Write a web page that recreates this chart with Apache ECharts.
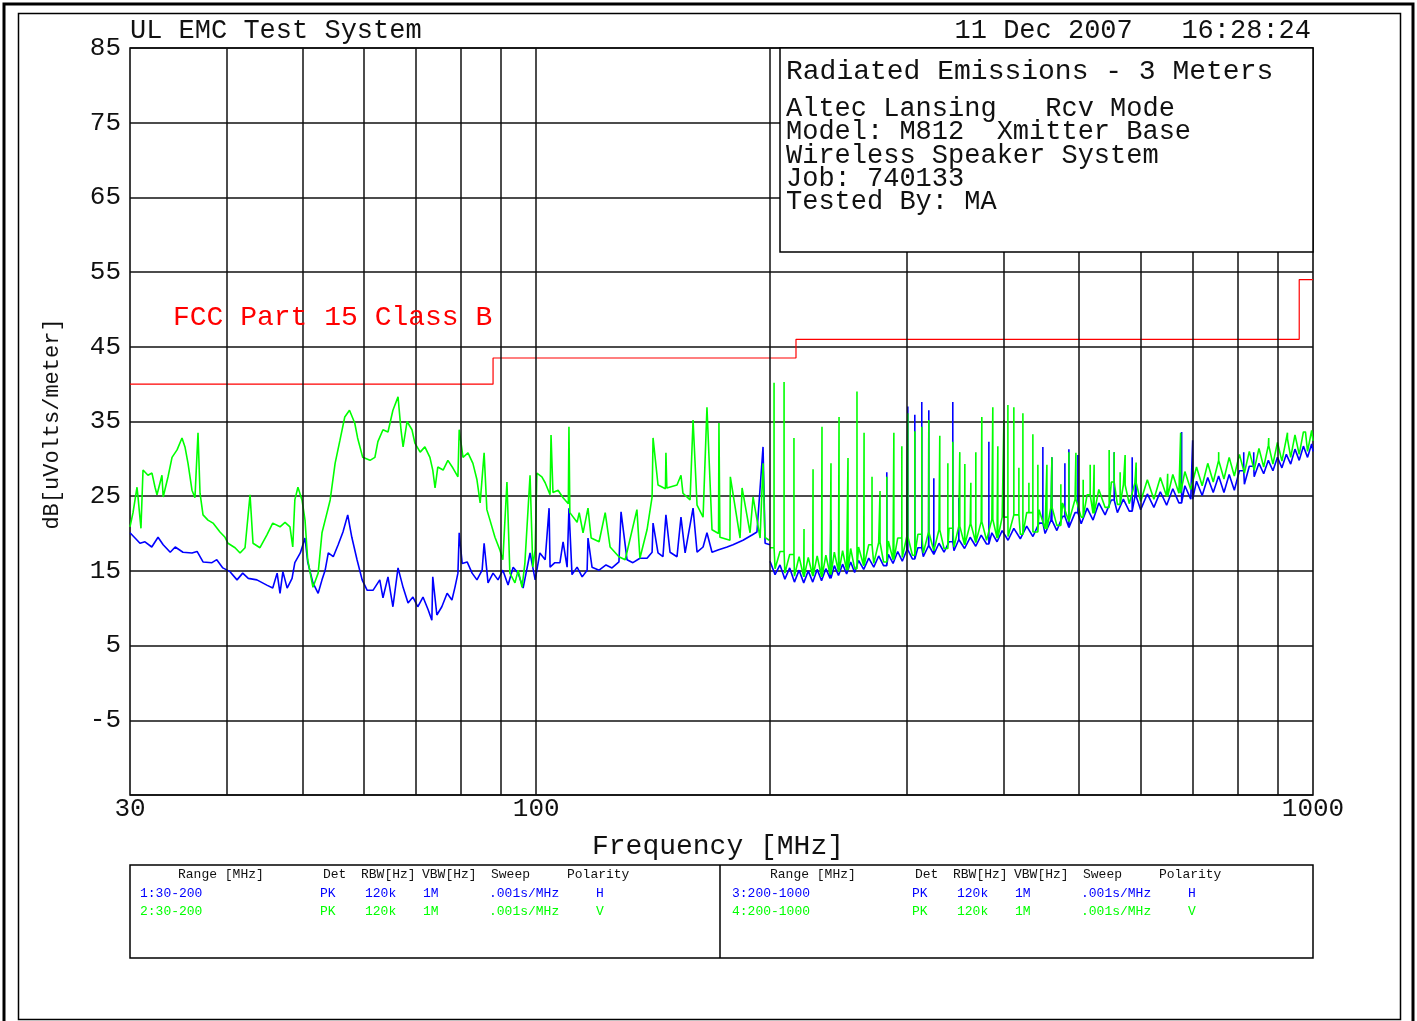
<!DOCTYPE html>
<html>
<head>
<meta charset="utf-8">
<script src="https://cdn.jsdelivr.net/npm/echarts@6/dist/echarts.min.js"></script>
<style>
html,body{margin:0;padding:0;background:#fff;}
#c{width:1417px;height:1021px;}
</style>
</head>
<body>
<div id="c"></div>
<script>
// ---------- DATA ----------
// Trace 1 (blue, H, 30-200 MHz)
const blue1F = [30.0,30.45,30.9,31.36,32.0,32.6,33.1,33.8,34.3,35.1,
36.05,36.6,37.25,38.25,38.8,39.5,40.35,41.2,41.9,42.6,
43.7,45.0,45.8,46.4,46.8,47.2,47.8,48.5,48.9,49.7,
50.4,50.8,51.6,52.4,53.0,53.5,54.0,54.8,55.6,56.4,
57.2,57.9,58.8,59.7,60.6,61.65,62.9,63.5,64.45,65.4,
66.4,67.4,68.4,69.4,70.4,71.5,72.6,73.4,73.6,74.5,
75.6,76.8,77.9,78.6,79.3,79.6,80.3,81.5,82.7,83.9,
85.2,85.7,86.7,88.0,89.3,90.6,92.0,93.4,94.8,96.2,
98.2,99.7,101.1,102.7,103.9,104.2,105.7,107.3,108.3,109.6,
110.2,111.2,112.9,114.6,116.3,116.6,118.0,120.5,123.0,125.2,
127.8,128.6,130.9,133.2,136.0,138.9,141.0,141.4,143.5,145.6,
146.9,148.7,151.8,153.6,155.5,159.2,161.1,164.0,165.9,168.4,
171.4,176.1,179.2,184.6,189.6,192.4,195.9,197.1,200];
const blue1V = [20.1,19.4,18.7,18.9,18.2,19.5,18.5,17.5,18.2,17.5,
17.4,17.6,16.2,16.1,16.5,15.4,14.9,13.8,14.7,14.0,
13.8,13.1,12.7,14.7,12.0,14.9,12.7,14.0,16.1,17.4,
19.4,16.2,13.4,12.0,13.8,15.1,17.4,16.9,18.5,20.2,
22.5,19.5,16.5,13.8,12.4,12.4,13.8,11.4,14.2,10.2,
15.4,12.8,10.7,11.5,10.2,11.5,9.8,8.4,14.2,9.1,
10.2,12.0,11.1,12.8,14.7,20.1,16.0,16.2,14.7,13.8,
15.1,18.7,13.4,14.7,13.8,15.1,13.1,15.5,14.7,12.7,
17.4,13.8,17.4,16.5,23.4,15.5,16.1,16.1,18.9,15.5,
23.4,14.5,15.5,14.2,15.1,19.4,15.5,15.1,15.8,15.4,
16.2,22.9,16.5,16.1,16.7,16.7,17.5,21.4,17.4,16.9,
22.5,17.5,16.9,22.2,17.4,23.4,17.5,18.2,20.1,17.5,
17.8,18.2,18.5,19.1,19.8,20.2,31.6,18.7,18.5];

// Trace 2 (green, V, 30-200 MHz)
const green2F = [30.0,30.27,30.63,30.72,30.99,31.18,31.64,32.02,32.31,32.5,
32.98,33.1,33.58,33.98,34.49,35.0,35.31,35.63,36.05,36.37,
36.7,36.92,37.25,37.8,38.37,39.17,39.76,40.11,40.96,41.57,
42.19,42.82,43.2,44.1,45.0,45.8,46.8,47.5,48.2,48.6,
48.9,49.35,49.95,50.4,50.8,51.6,52.4,53.0,53.8,54.3,
55.1,55.9,56.7,57.5,58.4,58.9,59.8,61.1,62.0,62.55,
63.5,64.45,65.4,66.4,66.98,67.4,68.2,69.2,69.8,70.9,
71.9,72.98,73.6,74.1,74.7,75.9,76.97,78.1,79.3,79.6,
80.5,81.7,82.9,83.9,84.7,85.7,86.4,87.2,88.5,89.8,
90.6,91.7,92.5,93.9,94.8,95.9,96.7,98.2,99.0,99.7,
100.2,101.7,102.7,104.2,104.5,105.1,106.7,108.3,110.0,110.2,
110.5,112.9,113.6,114.9,116.6,117.7,120.5,122.7,124.5,127.8,
130.2,134.8,136.0,138.9,141.0,141.4,143.5,146.7,146.9,147.3,
151.8,153.6,154.5,157.8,159.2,161.1,164.0,165.9,168.4,171.7,
171.9,172.4,177.6,177.8,183.0,184.1,188.5,190.2,194.2,195.9,
197.0,199.5];
const green2V = [20.9,22.8,26.2,24.9,20.7,28.5,27.8,28.1,26.2,25.2,
27.8,24.9,27.6,30.2,31.2,32.8,31.6,29.4,25.8,24.8,
33.5,25.4,22.5,21.8,21.4,20.2,19.5,18.7,18.1,17.4,
18.1,25.2,18.7,18.1,19.8,21.4,20.9,21.5,20.9,18.2,
24.5,26.2,24.5,21.8,16.5,12.8,14.7,20.1,22.8,24.5,
29.4,32.5,35.6,36.5,34.8,32.8,30.2,29.8,30.2,32.3,
33.9,33.6,36.5,38.3,33.9,31.6,35.0,33.9,32.1,30.9,
31.6,30.2,28.5,26.1,28.9,28.5,29.8,28.8,27.6,33.9,
30.2,30.8,29.4,27.2,24.1,30.8,23.2,21.8,19.5,17.8,
16.5,26.9,14.7,13.4,15.1,12.8,16.0,27.8,15.5,17.8,
28.1,27.6,26.8,25.2,33.2,25.5,25.8,24.8,24.0,34.3,
22.8,21.5,22.8,20.1,23.4,19.4,18.9,22.8,18.2,16.9,
16.5,23.2,16.7,20.5,24.9,32.8,26.5,26.0,30.8,26.1,
26.5,27.8,25.4,24.5,35.2,23.8,22.2,36.9,20.5,20.0,
34.8,19.5,19.1,27.6,19.4,26.1,20.1,24.9,19.4,29.4,
19.5,19.1];

// Traces 3 & 4 (200-1000 MHz) noise floor, sampled frequencies
const hiF = [200,203,206,209,212,215,218,221,224,227,
230,233,236,239,242,245,248,251,254,257,
260,264,268,272,276,280,284,288,292,296,
300,305,310,315,320,325,330,335,340,345,
350,356,362,368,374,380,386,392,398,405,
412,420,428,436,444,452,460,468,476,485,
494,503,512,521,530,540,550,560,570,580,
590,600,612,624,636,648,660,672,684,696,
708,720,732,744,756,768,780,792,804,816,
828,840,852,864,876,888,900,912,924,936,
948,960,972,984,996,1000];
const blue3V = [16.3,14.5,15.8,13.9,15.4,13.5,15.1,13.4,15.0,13.5,
15.2,13.7,15.3,14.0,15.7,14.4,15.9,14.6,16.2,14.8,
16.4,15.2,16.7,15.5,17.0,15.7,17.2,16.0,17.6,16.3,
17.8,16.6,18.1,16.9,18.4,17.2,18.7,17.5,18.9,17.7,
19.2,18.0,19.5,18.3,19.8,18.6,20.1,18.9,20.4,19.1,
20.7,19.3,21.0,19.6,21.4,20.0,21.8,20.4,22.3,20.8,
22.8,21.3,23.4,21.8,24.1,22.5,24.5,22.8,24.6,23.0,
25.0,23.2,25.3,23.5,25.6,23.8,26.0,24.1,26.4,24.6,
27.0,25.1,27.5,25.5,27.7,25.5,27.9,25.8,28.4,26.6,
29.0,27.6,29.4,28.0,29.8,28.4,30.2,28.8,30.6,29.3,
31.3,29.8,31.7,30.2,32.0,31.0];
const green4V = [18.1,15.3,17.6,14.7,17.2,14.3,16.9,14.2,16.8,14.3,
17.0,14.2,17.1,14.5,17.5,14.9,17.7,15.1,18.0,15.3,
18.2,15.7,18.5,16.0,18.8,16.2,19.0,16.5,19.4,16.8,
19.6,17.1,19.9,17.4,20.2,17.7,20.5,18.0,20.7,18.2,
21.0,18.5,21.3,18.8,21.6,19.1,21.9,19.4,22.2,19.6,
22.5,19.9,22.8,20.2,23.2,20.6,23.6,21.1,24.1,21.6,
24.6,22.2,25.2,22.7,25.9,23.5,26.9,23.9,26.5,24.0,
26.8,24.3,27.2,24.6,27.5,25.0,27.9,25.4,28.3,25.9,
28.9,26.4,29.4,26.9,29.8,27.3,30.2,27.7,30.6,28.1,
31.0,28.5,31.4,28.9,31.8,29.3,32.2,29.7,32.7,30.2,
33.2,30.6,33.6,31.0,33.8,32.4];

// Narrow emission spikes, 200-1000 MHz
const blue3SpikeF = [239.6,282.7,300.9,307.2,313.6,320.2,325.0,343.8,350.0,382.6,
449.0,461.2,479.3,485.0,498.1,554.7,585.1,592.0,677.5,700.0,814.4,838.9];
const blue3SpikeV = [21.8,28.2,37.0,35.9,37.6,36.5,27.4,37.6,24.8,32.3,
31.6,30.2,29.4,31.3,30.5,30.9,30.2,28.8,33.6,32.5,30.9,30.9];
const green4SpikeF = [202.4,208.5,214.7,221.2,227.2,233.3,239.6,245.4,252.0,258.8,
264.3,270.6,277.1,282.7,288.7,295.6,300.9,307.2,313.6,320.2,
330.8,338.8,343.8,351.0,356.3,362.7,368.1,374.7,387.1,392.9,
400.0,404.8,412.0,418.2,423.2,430.8,435.9,442.4,454.4,461.2,
473.6,485.0,495.2,506.0,516.6,522.7,546.5,554.7,564.6,573.0,
592.0,650.0,675.5,756.1,856.4,877.0,927.1,977.9];
const green4SpikeV = [40.2,40.3,32.8,20.6,28.6,34.3,29.4,35.6,30.1,39.0,
33.5,27.6,25.7,27.6,33.5,31.7,36.1,33.7,34.3,35.2,
33.1,29.4,32.3,30.9,29.3,26.8,30.9,35.6,36.9,31.7,
35.2,37.2,36.9,28.8,36.1,26.8,33.3,29.2,29.2,30.2,
26.6,30.9,30.8,27.2,29.2,29.2,31.2,30.9,28.2,30.5,
29.5,28.0,33.5,30.9,31.3,32.8,33.5,33.5];

// FCC Part 15 Class B limit (3 m)
const limitF = [30, 88, 88, 216, 216, 960, 960, 1000];
const limitV = [40, 40, 43.5, 43.5, 46, 46, 54, 54];

// Axis
const gridFreqs = [40,50,60,70,80,90,100,200,300,400,500,600,700,800,900];

// Texts
const titleText = 'UL EMC Test System';
const dateText = '11 Dec 2007   16:28:24';
const infoTitle = 'Radiated Emissions - 3 Meters';
const infoLines = ['Altec Lansing   Rcv Mode','Model: M812  Xmitter Base','Wireless Speaker System','Job: 740133','Tested By: MA'];
const limitLabel = 'FCC Part 15 Class B';
const xName = 'Frequency [MHz]';
const yName = 'dB[uVolts/meter]';
const tableHead = ['Range [MHz]','Det','RBW[Hz]','VBW[Hz]','Sweep','Polarity'];
const tableRows = [
  ['1:30-200','PK','120k','1M','.001s/MHz','H'],
  ['2:30-200','PK','120k','1M','.001s/MHz','V'],
  ['3:200-1000','PK','120k','1M','.001s/MHz','H'],
  ['4:200-1000','PK','120k','1M','.001s/MHz','V']
];

// ---------- BUILD ----------
const BLUE = '#0000ff', GREEN = '#00ff00', RED = '#ff0000';
const FONT = '"Liberation Mono","DejaVu Sans Mono",monospace';
const INK = '#111';

function pairs(F, V) { return F.map((f, i) => [f, V[i]]); }
function withSpikes(F, V, SF, SV) {
  const groups = F.map((f, i) => [[f, V[i]]]);
  SF.forEach((f, j) => {
    let k = 0;
    while (k + 1 < F.length && F[k + 1] <= f) k++;
    const base = V[k];
    groups.push([[f, base], [f, SV[j]], [f, base]]);
  });
  groups.sort((a, b) => a[0][0] - b[0][0]);
  return [].concat(...groups);
}

const chart = echarts.init(document.getElementById('c'), null, {renderer: 'canvas'});

function txt(x, y, text, size, color, align, extra) {
  return Object.assign({
    type: 'text', x: x, y: y, z: 110, silent: true,
    style: {
      text: text, fill: color || INK,
      font: size + 'px ' + FONT,
      textAlign: align || 'left', align: align || 'left',
      textVerticalAlign: 'middle', verticalAlign: 'middle'
    }
  }, extra || {});
}

const graphics = [];
graphics.push({type: 'rect', z: 90, silent: true, shape: {x: 4, y: 4, width: 1409, height: 1030}, style: {fill: 'none', stroke: '#000', lineWidth: 3}});
graphics.push({type: 'rect', z: 90, silent: true, shape: {x: 18.5, y: 13.5, width: 1382, height: 1006}, style: {fill: 'none', stroke: '#000', lineWidth: 1.5}});
graphics.push(txt(130, 31, titleText, 27, INK, 'left'));
graphics.push(txt(1311, 31, dateText, 27, INK, 'right'));
graphics.push({type: 'rect', z: 100, silent: true, shape: {x: 780, y: 48, width: 533, height: 204}, style: {fill: '#fff', stroke: '#000', lineWidth: 1.5}});
graphics.push(txt(786, 72, infoTitle, 28, INK, 'left'));
const infoY = [109, 132, 156, 179, 202];
infoLines.forEach((s, i) => graphics.push(txt(786, infoY[i], s, 27, INK, 'left')));
graphics.push(txt(173, 318, limitLabel, 28, RED, 'left'));
graphics.push(txt(718, 847, xName, 28, INK, 'center'));
graphics.push(txt(52, 424, yName, 22, INK, 'center', {rotation: Math.PI / 2}));
// bottom table
graphics.push({type: 'rect', z: 100, silent: true, shape: {x: 130, y: 865, width: 1183, height: 93}, style: {fill: '#fff', stroke: '#000', lineWidth: 1.5}});
graphics.push({type: 'line', z: 101, silent: true, shape: {x1: 720, y1: 865, x2: 720, y2: 958}, style: {stroke: '#000', lineWidth: 1.5}});
const headX = [178, 323, 361, 422, 491, 567];
const rowX = [140, 320, 365, 423, 489, 596];
const rowY = [894, 912];
[0, 592].forEach((off, h) => {
  tableHead.forEach((s, i) => graphics.push(txt(headX[i] + off, 875, s, 13, INK, 'left')));
  for (let r = 0; r < 2; r++) {
    const row = tableRows[h * 2 + r];
    row.forEach((s, i) => graphics.push(txt(rowX[i] + off, rowY[r], s, 13, r === 0 ? BLUE : GREEN, 'left')));
  }
});

const option = {
  animation: false,
  backgroundColor: '#fff',
  grid: {left: 130, top: 48, right: 104, bottom: 226, show: true, borderColor: '#000', borderWidth: 1.5, backgroundColor: 'transparent'},
  xAxis: {
    type: 'log', logBase: 10, min: 30, max: 1000,
    axisLine: {show: false}, axisTick: {show: false}, splitLine: {show: false}, minorSplitLine: {show: false},
    axisLabel: {show: true, showMinLabel: true, showMaxLabel: true, color: INK, fontFamily: FONT, fontSize: 26, margin: 1, formatter: v => String(Math.round(v))}
  },
  yAxis: {
    type: 'value', min: -15, max: 85, interval: 10,
    axisLine: {show: false}, axisTick: {show: false},
    splitLine: {show: true, lineStyle: {color: '#111', width: 1.5}},
    axisLabel: {color: INK, fontFamily: FONT, fontSize: 26, margin: 9,
      formatter: v => (v <= -15 ? '' : String(v))}
  },
  graphic: graphics,
  series: [
    {type: 'line', name: 'grid', data: [[30, -15]], symbol: 'none', lineStyle: {opacity: 0}, z: 1, silent: true,
     markLine: {silent: true, symbol: ['none', 'none'], label: {show: false}, animation: false,
       lineStyle: {color: '#111', width: 1.5, type: 'solid'},
       data: gridFreqs.map(f => ({xAxis: f}))}},
    {type: 'line', name: '1', data: pairs(blue1F, blue1V), symbol: 'none', lineStyle: {color: BLUE, width: 1.6}, z: 2, silent: true},
    {type: 'line', name: '2', data: pairs(green2F, green2V), symbol: 'none', lineStyle: {color: GREEN, width: 1.6}, z: 2, silent: true},
    {type: 'line', name: '3', data: withSpikes(hiF, blue3V, blue3SpikeF, blue3SpikeV), symbol: 'none', lineStyle: {color: BLUE, width: 1.6}, z: 2, silent: true},
    {type: 'line', name: '4', data: withSpikes(hiF, green4V, green4SpikeF, green4SpikeV), symbol: 'none', lineStyle: {color: GREEN, width: 1.6}, z: 2, silent: true},
    {type: 'line', name: 'limit', data: pairs(limitF, limitV), symbol: 'none', lineStyle: {color: RED, width: 1.2}, z: 3, silent: true}
  ]
};
chart.setOption(option);
</script>
</body>
</html>
